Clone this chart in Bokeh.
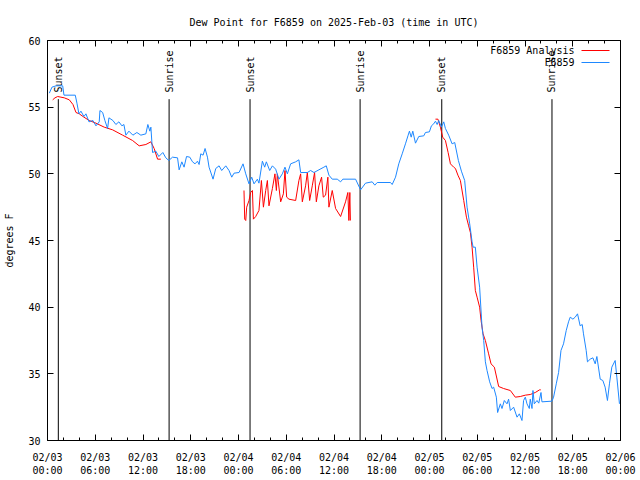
import math
from bokeh.plotting import figure
from bokeh.models import Range1d, FixedTicker, LinearAxis, Label, BoxAnnotation
from bokeh.core.properties import value
from bokeh.embed import file_html
from bokeh.resources import INLINE

FONT = "DejaVu Sans Mono"

# ---- data (hours since 2025-02-03 00:00 UTC, dew point in F) ----
obs_hours = [0.23, 0.56, 1.07, 1.91, 2.07, 3.49, 3.70, 3.95, 4.20, 4.58, 4.83, 5.21, 5.71, 6.09, 6.50,
             6.59, 6.93, 7.21, 7.55, 7.72, 8.22, 8.59, 8.97, 9.35, 9.60, 9.85, 10.23, 10.73, 11.23,
             11.73, 12.36, 12.61, 12.86, 12.99, 13.20, 13.61, 13.99, 14.49, 14.87, 15.24, 15.71,
             16.34, 16.54, 16.88, 17.16, 17.47, 17.88, 18.22, 18.54, 18.85, 19.05, 19.26, 19.55,
             19.80, 20.10, 20.30, 20.80, 21.14, 21.56, 21.89, 22.40, 22.81, 23.15, 23.44, 24.07,
             24.57, 24.91, 25.32, 25.66, 25.95, 26.37, 26.57, 27.00, 27.29, 27.50, 27.92, 28.26,
             28.67, 29.08, 29.51, 29.84, 30.14, 30.55, 31.18, 31.59, 31.81, 32.65, 33.06, 33.48,
             34.10, 34.73, 35.03, 35.36, 35.78, 36.41, 36.83, 37.11, 38.71, 39.34, 39.96, 40.80,
             41.13, 41.43, 43.10, 43.31, 43.73, 44.14, 44.57, 44.98, 45.32, 45.48, 45.70, 45.90,
             46.24, 46.65, 47.28, 47.49, 47.99, 48.24, 48.53, 48.75, 48.96, 49.16, 49.50, 49.79,
             50.00, 50.41, 50.84, 51.17, 51.63, 52.01, 52.42, 52.72, 53.05, 53.35, 53.48, 53.76,
             53.98, 54.30, 54.60, 54.81, 55.02, 55.23, 55.56, 55.86, 56.06, 56.40, 56.56, 56.90,
             57.11, 57.40, 57.74, 57.94, 58.16, 58.57, 59.00, 59.29, 59.62, 59.82, 60.04, 60.25,
             60.54, 60.66, 60.88, 61.00, 61.17, 61.51, 61.73, 62.01, 62.13, 63.39, 63.59, 63.93,
             64.22, 64.52, 64.84, 65.18, 65.47, 65.68, 66.02, 66.31, 66.60, 66.93, 67.19, 67.35,
             67.69, 67.85, 68.19, 68.53, 68.82, 69.03, 69.45, 69.78, 70.07, 70.36, 70.61, 70.91,
             71.33, 71.54, 71.87]
obs_dewpt = [56.05, 56.5, 56.6, 56.6, 55.9, 55.9, 55.3, 54.5, 54.7, 54.3, 54.5, 53.9, 54.0, 53.6, 53.9,
             54.75, 54.6, 54.0, 53.4, 54.2, 54.0, 53.7, 53.9, 53.6, 53.7, 52.9, 53.2, 52.9, 53.1,
             52.9, 53.0, 53.7, 53.2, 53.5, 51.6, 51.7, 51.3, 51.6, 51.2, 51.0, 51.25,
             51.2, 50.3, 50.9, 50.5, 51.3, 51.25, 50.9, 50.75, 50.95, 50.7, 51.5, 51.4,
             51.9, 51.25, 50.5, 49.6, 50.4, 50.6, 50.25, 50.6, 50.25, 49.75, 50.05, 50.1,
             50.75, 50.0, 49.25, 49.75, 49.25, 49.6, 49.3, 50.95, 50.5, 50.9, 50.25, 50.6,
             50.35, 49.6, 50.0, 50.5, 50.0, 50.75, 50.9, 51.05, 50.1, 50.1, 50.25, 50.1,
             50.3, 50.5, 50.6, 49.9, 49.6, 49.6, 49.4, 49.6, 49.6, 48.8, 49.3, 49.4,
             49.15, 49.35, 49.35, 49.2, 49.75, 50.75, 51.5, 52.25, 52.9, 53.2, 52.75, 53.2,
             52.3, 52.8, 52.85, 53.1, 53.15, 53.6, 53.75, 53.95, 53.7, 54.0, 53.5, 53.9,
             53.4, 52.9, 52.25, 52.35, 51.0, 50.2, 49.5, 47.5, 46.25, 44.9, 44.5, 44.5,
             43.0, 41.5, 38.5, 37.5, 35.9, 35.25, 34.4, 33.9, 34.0, 33.25, 32.1, 32.75,
             32.4, 33.0, 32.75, 33.1, 32.25, 32.5, 31.75, 32.0, 31.5, 33.0, 33.25, 32.75,
             32.4, 33.1, 32.4, 33.75, 32.75, 33.0, 32.8, 33.6, 32.9, 32.95, 33.25, 34.25,
             35.1, 36.75, 37.25, 38.25, 38.9, 39.25, 39.1, 39.25, 39.5, 38.6, 38.7, 38.0,
             36.75, 35.9, 36.1, 36.2, 35.75, 36.3, 34.6, 34.5, 34.0, 33.0, 34.25, 35.5,
             36.0, 34.75, 32.75]

ana1_hours = [0.65, 0.94, 1.28, 1.69, 2.11, 2.74, 3.20, 3.58, 3.99, 4.58, 5.24, 6.09, 7.13, 8.18,
              9.44, 10.69, 11.52, 12.36, 12.99, 13.40, 13.83, 14.24]
ana1_dewpt = [55.55, 55.7, 55.8, 55.75, 55.7, 55.55, 55.2, 54.6, 54.5, 54.25, 54.0, 53.8, 53.5, 53.3,
              52.9, 52.5, 52.1, 52.2, 52.4, 51.9, 51.1, 51.1]

ana2_hours = [24.69, 24.78, 24.91, 25.03, 25.32, 25.53, 25.75, 25.87, 26.16, 26.57, 26.88, 27.13,
              27.42, 27.63, 27.83, 28.26, 28.58, 28.76, 28.88, 29.30, 29.64, 29.84, 30.05, 30.34,
              31.18, 31.59, 31.81, 32.02, 32.43, 32.65, 32.94, 33.27, 33.56, 33.78, 34.10, 34.44,
              34.65, 34.94, 35.23, 35.36, 35.78, 36.20, 36.83, 37.45, 37.74, 37.87, 37.99, 38.06]
ana2_dewpt = [48.75, 46.6, 46.5, 47.5, 48.0, 48.6, 48.75, 46.6, 46.8, 47.25, 49.5, 47.5,
              48.75, 49.5, 47.6, 48.9, 50.0, 48.75, 50.0, 47.9, 48.5, 50.25, 48.25, 48.1,
              48.0, 49.5, 50.0, 47.9, 49.1, 50.1, 48.0, 49.1, 50.1, 47.9, 49.1, 49.75,
              48.25, 48.4, 49.75, 47.5, 48.75, 47.4, 46.8, 47.9, 48.6, 46.5, 48.6, 46.5]

ana3_hours = [48.75, 49.06, 49.37, 49.66, 50.00, 50.34, 50.63, 51.04, 51.26, 51.57, 51.88, 52.30,
              52.64, 52.92, 53.14, 53.35, 53.55, 53.76, 53.98, 54.30, 54.48, 54.73, 55.02, 55.43,
              55.73, 56.15, 56.69, 57.31, 58.16, 58.78, 59.41, 60.04, 60.66, 61.29, 61.83, 61.98]
ana3_dewpt = [54.1, 54.1, 53.5, 52.75, 52.5, 51.6, 50.75, 50.5, 50.4, 49.9, 49.5, 48.0,
              46.75, 46.1, 45.6, 44.5, 43.0, 41.25, 40.75, 40.0, 39.0, 38.0, 37.5, 36.5,
              35.75, 35.5, 34.05, 33.9, 33.75, 33.25, 33.3, 33.4, 33.45, 33.6, 33.8, 33.8]

sun_hours = [1.36, 15.28, 25.45, 39.28, 49.54, 63.39]
sun_names = ["Sunset", "Sunrise", "Sunset", "Sunrise", "Sunset", "Sunrise"]

x_tick_hours = list(range(0, 73, 6))
x_tick_labels = ["02/03\n00:00", "02/03\n06:00", "02/03\n12:00", "02/03\n18:00",
                 "02/04\n00:00", "02/04\n06:00", "02/04\n12:00", "02/04\n18:00",
                 "02/05\n00:00", "02/05\n06:00", "02/05\n12:00", "02/05\n18:00",
                 "02/06\n00:00"]
x_minor_hours = list(range(0, 73, 2))
y_ticks = [30, 35, 40, 45, 50, 55, 60]

RED = "#ff0000"
BLUE = "#1e88ff"

p = figure(width=640, height=480, x_range=Range1d(0, 72), y_range=Range1d(30, 60),
           output_backend="svg", toolbar_location=None,
           min_border_left=47, min_border_right=20, min_border_top=40, min_border_bottom=40)
p.grid.visible = False
p.outline_line_color = "black"
p.outline_line_alpha = 1.0
p.outline_line_width = 1
p.background_fill_color = "white"
p.border_fill_color = "white"

p.title.text = "Dew Point for F6859 on 2025-Feb-03 (time in UTC)"
p.title.align = "center"
p.title.text_font = FONT
p.title.text_font_size = "10px"
p.title.text_font_style = "normal"
p.title.text_color = "black"
p.title.standoff = 26

def style_axis(ax):
    ax.axis_line_color = None
    ax.major_tick_in = 6
    ax.major_tick_out = 0
    ax.minor_tick_in = 3
    ax.minor_tick_out = 0
    ax.major_tick_line_color = "black"
    ax.minor_tick_line_color = "black"
    ax.major_label_text_font = FONT
    ax.major_label_text_font_size = "10px"
    ax.major_label_text_color = "black"

xa = p.xaxis[0]
xa.ticker = FixedTicker(ticks=x_tick_hours, minor_ticks=x_minor_hours)
xa.major_label_overrides = {h: l for h, l in zip(x_tick_hours, x_tick_labels)}
style_axis(xa)
xa.major_label_standoff = 11

ya = p.yaxis[0]
ya.ticker = FixedTicker(ticks=y_ticks, minor_ticks=[])
style_axis(ya)
ya.major_label_standoff = 7
ya.axis_label = "degrees F"
ya.axis_label_text_font = FONT
ya.axis_label_text_font_size = "10px"
ya.axis_label_text_font_style = "normal"
ya.axis_label_text_color = "black"
ya.axis_label_standoff = 10

top = LinearAxis(ticker=FixedTicker(ticks=x_tick_hours, minor_ticks=x_minor_hours))
style_axis(top)
top.major_label_text_color = None
top.major_label_standoff = 0
p.add_layout(top, "above")

right = LinearAxis(ticker=FixedTicker(ticks=y_ticks, minor_ticks=[]))
style_axis(right)
right.major_label_text_color = None
right.major_label_standoff = 0
p.add_layout(right, "right")

# sunrise / sunset markers
p.segment(x0=sun_hours, y0=[30] * len(sun_hours), x1=sun_hours, y1=[55.6] * len(sun_hours),
          line_color="black", line_width=1)
p.text(x=sun_hours, y=[56.1] * len(sun_hours), text=sun_names, angle=math.pi / 2,
       text_align="left", text_baseline="middle", text_font=value(FONT),
       text_font_size="10px", text_color="black")

# analysis (red), then observations (blue)
for hx, hy in [(ana1_hours, ana1_dewpt), (ana2_hours, ana2_dewpt), (ana3_hours, ana3_dewpt)]:
    p.line(hx, hy, line_color=RED, line_width=1)
p.line(obs_hours, obs_dewpt, line_color=BLUE, line_width=1)

# gnuplot-style key (text then sample), screen units relative to the frame
key = [("F6859 Analysis", RED, 390), ("F6859", BLUE, 378)]
for txt, col, sy in key:
    p.add_layout(Label(x=527, y=sy, x_units="screen", y_units="screen", text=txt,
                       text_align="right", text_baseline="middle", text_font=FONT,
                       text_font_size="10px", text_color="black"))
    p.add_layout(BoxAnnotation(left=534, right=562, bottom=sy - 0.5, top=sy + 0.5,
                               left_units="screen", right_units="screen",
                               bottom_units="screen", top_units="screen",
                               fill_color=col, fill_alpha=1.0, line_color=None))

open("out.html", "w").write(file_html(p, INLINE))
